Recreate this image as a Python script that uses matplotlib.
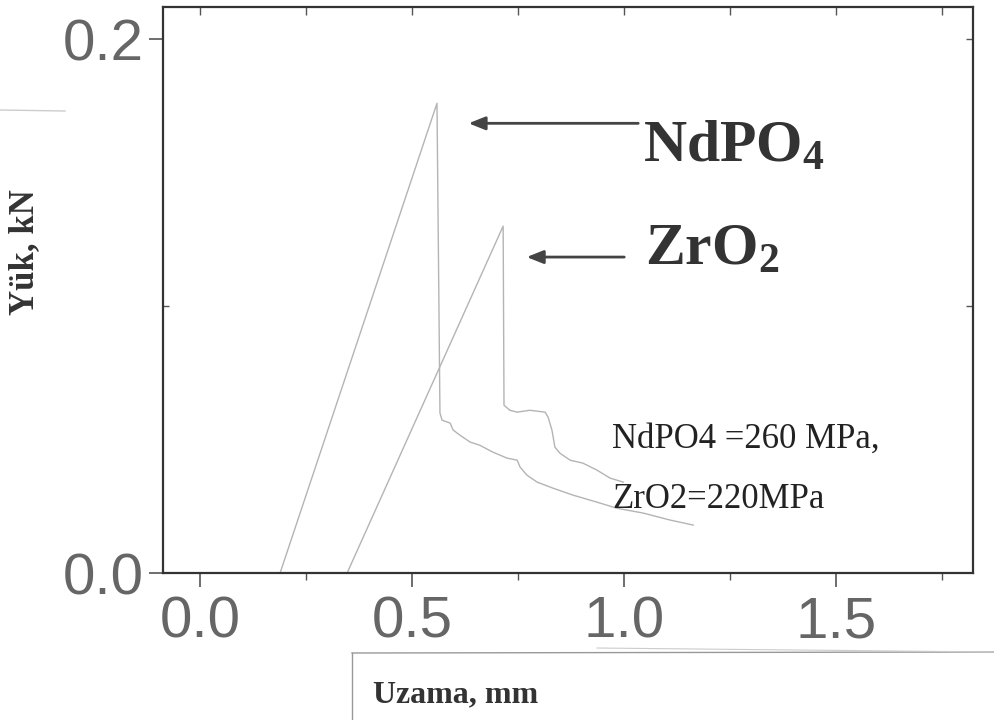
import matplotlib
matplotlib.use("Agg")
import matplotlib.pyplot as plt
from matplotlib.lines import Line2D
from matplotlib.ticker import MultipleLocator

plt.rcParams['mathtext.fontset'] = 'custom'
plt.rcParams['mathtext.rm'] = 'Liberation Serif'
plt.rcParams['mathtext.bf'] = 'Liberation Serif:bold'

# NdPO4 curve (elongation mm, load kN)
nd_x = [0.00, 0.189, 0.559, 0.566, 0.571, 0.590, 0.597, 0.613, 0.637, 0.660, 0.691,
        0.724, 0.748, 0.755, 0.771, 0.795, 0.833, 0.880, 0.936, 0.983, 1.045, 1.108, 1.163]
nd_y = [0.0, 0.0, 0.176, 0.0600, 0.0573, 0.0562, 0.0536, 0.0517, 0.0491, 0.0479, 0.0453,
        0.0431, 0.0423, 0.0397, 0.0367, 0.0341, 0.0318, 0.0292, 0.0266, 0.0243, 0.0225, 0.0199, 0.0180]

# ZrO2 curve
zr_x = [0.00, 0.347, 0.715, 0.717, 0.731, 0.748, 0.778, 0.814, 0.821, 0.830, 0.837,
        0.849, 0.873, 0.903, 0.936, 0.967, 0.998]
zr_y = [0.0, 0.0, 0.130, 0.0629, 0.0610, 0.0603, 0.0610, 0.0603, 0.0584, 0.0536, 0.0472,
        0.0449, 0.0423, 0.0412, 0.0386, 0.0356, 0.0341]

x_ticks = [0.0, 0.5, 1.0, 1.5]
x_tick_labels = ["0.0", "0.5", "1.0", "1.5"]
y_ticks = [0.0, 0.2]
y_tick_labels = ["0.0", "0.2"]

fig = plt.figure(figsize=(9.95, 7.2), dpi=100)
ax = fig.add_axes([0.1638, 0.204, 0.978 - 0.1638, 0.990 - 0.204])

curve_col = '#b4b4b4'
ax.plot(nd_x, nd_y, color=curve_col, lw=1.0)
ax.plot(zr_x, zr_y, color=curve_col, lw=1.0)

ax.set_xlim(-0.087, 1.823)
ax.set_ylim(0.0, 0.212)

for s in ax.spines.values():
    s.set_color('#333333')
    s.set_linewidth(1.6)

ax.set_xticks(x_ticks)
ax.set_xticklabels(x_tick_labels)
ax.set_yticks(y_ticks)
ax.set_yticklabels(y_tick_labels)
ax.xaxis.set_minor_locator(MultipleLocator(0.25))
ax.yaxis.set_minor_locator(MultipleLocator(0.1))

ax.tick_params(axis='x', which='major', direction='out', length=10, width=1.2,
               colors='#555555', labelsize=42, pad=6, labelcolor='#666666')
ax.tick_params(axis='x', which='minor', direction='out', length=5, width=1.0, colors='#555555')
ax.tick_params(axis='y', which='major', direction='out', length=10, width=1.2,
               colors='#555555', labelsize=42, pad=4, labelcolor='#666666')
ax.tick_params(axis='y', which='minor', direction='in', length=4, width=1.0, colors='#555555')
for t in ax.get_xticklabels() + ax.get_yticklabels():
    t.set_family('Liberation Sans')

# top / right inward ticks
axt = ax.secondary_xaxis('top')
axt.set_xticks([0.0, 0.25, 0.5, 0.75, 1.0, 1.25, 1.5, 1.75])
axt.tick_params(direction='in', length=6, width=1.0, colors='#555555', labeltop=False)
axt.spines['top'].set_visible(False)
axr = ax.secondary_yaxis('right')
axr.set_yticks([0.1, 0.2])
axr.tick_params(direction='in', length=5, width=1.0, colors='#555555', labelright=False)
axr.spines['right'].set_visible(False)

# axis labels
fig.text(0.025, 0.65, "Yük, kN", rotation=90, ha='center', va='center',
         fontsize=25, fontweight='bold', family='Liberation Serif', color='#333333')
fig.text(0.375, 0.025, "Uzama, mm", ha='left', va='baseline',
         fontsize=23, fontweight='bold', family='Liberation Serif', color='#333333')

# annotations
arrow_kw = dict(arrowstyle='-|>,head_length=1.0,head_width=0.4', color='#444444', lw=2.0)
ax.annotate('', xy=(0.627, 0.1685), xytext=(1.040, 0.1685), arrowprops=arrow_kw)
ax.annotate('', xy=(0.764, 0.1184), xytext=(1.007, 0.1184), arrowprops=arrow_kw)
ax.text(1.045, 0.154, r'$\mathbf{NdPO_4}$', fontsize=43, color='#333333', va='baseline')
ax.text(1.050, 0.1154, r'$\mathbf{ZrO_2}$', fontsize=43, color='#333333', va='baseline')
ax.text(0.972, 0.0468, "NdPO4 =260 MPa,", fontsize=25, family='Liberation Serif',
        color='#222222', va='baseline')
ax.text(0.972, 0.0245, "ZrO2=220MPa", fontsize=25, family='Liberation Serif',
        color='#222222', va='baseline')

# scan artifacts (box around x label, faint lines)
fig.add_artist(Line2D([352/995, 352/995], [1 - 653/720, 0.0], color='#999999', lw=1.0))
fig.add_artist(Line2D([352/995, 1.0], [1 - 653/720, 1 - 652/720], color='#999999', lw=1.0))
fig.add_artist(Line2D([0.6, 1.0], [1 - 648/720, 1 - 652/720], color='#cccccc', lw=0.8))
fig.add_artist(Line2D([0.0, 65/995], [1 - 110/720, 1 - 111/720], color='#cccccc', lw=1.0))

fig.savefig("out.png", dpi=100)
